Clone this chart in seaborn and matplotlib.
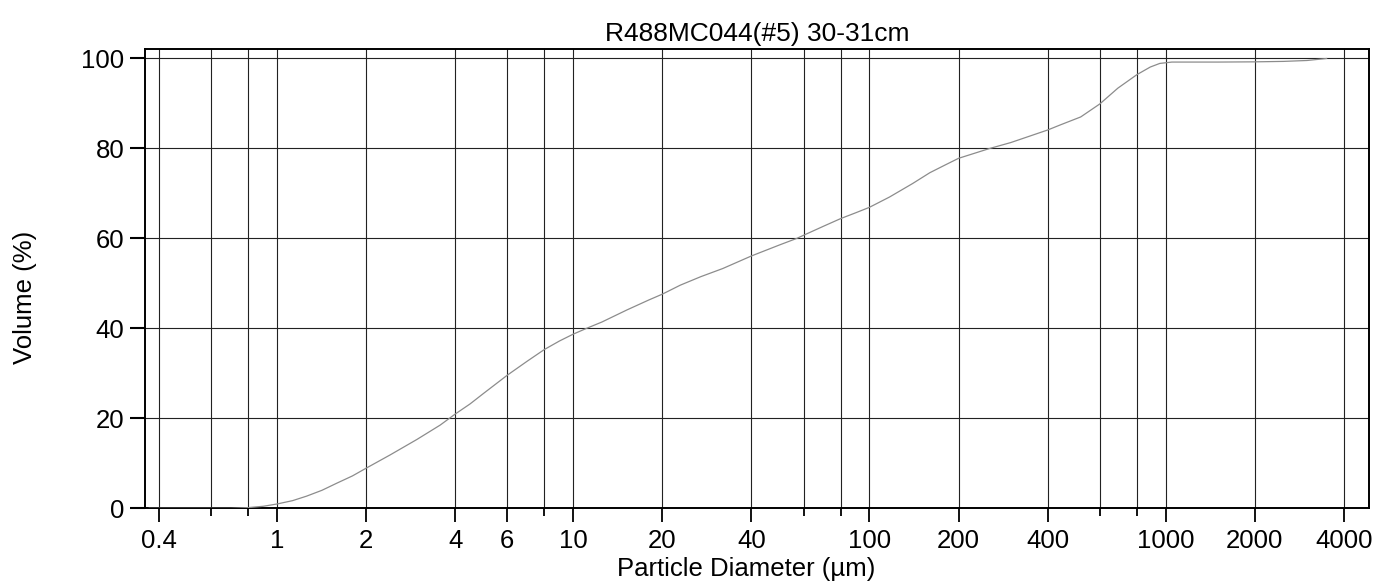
import numpy as np
import pandas as pd
import matplotlib as mpl
mpl.use('Agg')
import matplotlib.pyplot as plt
import seaborn as sns
from matplotlib.ticker import FixedLocator, FixedFormatter, NullFormatter

# cumulative volume curve
diameter = [0.37, 0.5, 0.6, 0.7, 0.8, 0.9, 1.0, 1.13, 1.26, 1.42, 1.59, 1.8, 2.0,
            2.41, 2.97, 3.56, 4.0, 4.49, 5.0, 6.0, 7.0, 8.0, 9.0, 10, 11.1, 12.5,
            15.2, 18, 20, 23, 27, 32, 40, 50, 56.9, 60, 70, 80, 90, 100, 117, 140,
            160, 180, 200, 255, 300, 400, 440, 517, 600, 690, 800, 888, 956, 1050,
            1500, 2000, 2500, 3000, 3500]
volume = [0, 0, 0, 0, 0.15, 0.45, 0.95, 1.7, 2.7, 4.0, 5.55, 7.2, 8.9,
          11.85, 15.3, 18.5, 20.95, 23.2, 25.6, 29.6, 32.7, 35.3, 37.2, 38.7, 40.0,
          41.4, 44.1, 46.3, 47.6, 49.6, 51.5, 53.3, 56.1, 58.6, 60.0, 60.7, 62.7,
          64.4, 65.7, 66.9, 69.2, 72.2, 74.6, 76.3, 77.8, 80.0, 81.3, 84.1, 85.2,
          87.0, 89.9, 93.4, 96.4, 98.1, 98.9, 99.2, 99.2, 99.25, 99.35, 99.55, 100]

major_ticks = [0.4, 1, 2, 4, 6, 10, 20, 40, 100, 200, 400, 1000, 2000, 4000]
major_labels = ['0.4', '1', '2', '4', '6', '10', '20', '40', '100', '200', '400',
                '1000', '2000', '4000']
minor_ticks = [0.6, 0.8, 8, 60, 80, 600, 800]
y_ticks = [0, 20, 40, 60, 80, 100]

title = 'R488MC044(#5) 30-31cm'

sns.set_theme(style='ticks')
plt.rcParams['font.family'] = ['Liberation Sans', 'DejaVu Sans']
plt.rcParams['text.color'] = 'black'
plt.rcParams['axes.labelcolor'] = 'black'
plt.rcParams['xtick.color'] = 'black'
plt.rcParams['ytick.color'] = 'black'

df = pd.DataFrame({'d': diameter, 'v': volume})

fig = plt.figure(figsize=(13.77, 5.85), dpi=100)
ax = fig.add_axes([0.1053, 0.1311, 0.9942 - 0.1053, 0.9162 - 0.1311])

sns.lineplot(data=df, x='d', y='v', ax=ax, color='#8c8c8c', linewidth=0.9, zorder=3)

ax.set_xscale('log')
ax.set_xlim(0.359, 4860)
ax.set_ylim(0, 102.1)

ax.xaxis.set_major_locator(FixedLocator(major_ticks))
ax.xaxis.set_major_formatter(FixedFormatter(major_labels))
ax.xaxis.set_minor_locator(FixedLocator(minor_ticks))
ax.xaxis.set_minor_formatter(NullFormatter())
ax.set_yticks(y_ticks)

ax.grid(True, which='both', axis='x', color='#222222', linewidth=0.8)
ax.grid(True, which='major', axis='y', color='#222222', linewidth=0.8)

ax.tick_params(axis='x', which='major', length=10, width=1.3, colors='black',
               labelsize=18.5, pad=5)
ax.tick_params(axis='x', which='minor', length=6, width=1.3, colors='black')
ax.tick_params(axis='y', which='major', length=11, width=1.5, colors='black',
               labelsize=18.5, pad=4)

for s in ax.spines.values():
    s.set_color('black')
    s.set_linewidth(1.4)

ax.set_xlabel('Particle Diameter (µm)', fontsize=18.5, color='black')
ax.set_ylabel('Volume (%)', fontsize=18.5, color='black')
ax.xaxis.set_label_coords(0.491, -0.105)
ax.yaxis.set_label_coords(-0.088, 0.46)
ax.set_title(title, fontsize=19, color='black', pad=6)

fig.savefig('out.png', dpi=100)
